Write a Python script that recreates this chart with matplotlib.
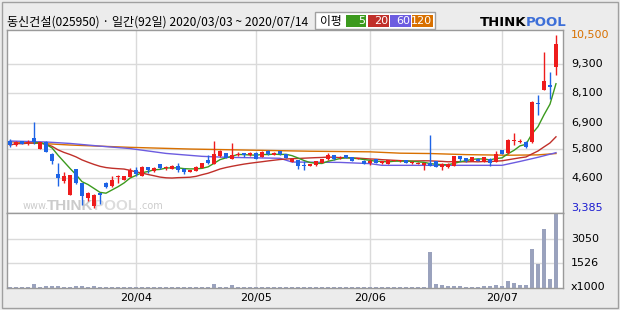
import numpy as np
import pandas as pd
import matplotlib
matplotlib.use("Agg")
import matplotlib.pyplot as plt
from matplotlib.patches import Rectangle

plt.rcParams['font.family'] = ['DejaVu Sans']
KR = ['Noto Sans CJK KR', 'DejaVu Sans']

title = "동신건설(025950) · 일간(92일) 2020/03/03 ~ 2020/07/14"
holidays = ['2020-04-15', '2020-04-30', '2020-05-01', '2020-05-05']
dates = pd.bdate_range('2020-03-03', '2020-07-14')
dates = dates[~dates.isin(pd.to_datetime(holidays))]

opens = [6150, 5990, 6140, 6060, 6270, 5820, 6100, 5600, 4800, 4510,
         3940, 5000, 4430, 3780, 3460, 4000, 4430, 4300, 4640, 4550,
         4660, 4960, 4720, 5090, 4900, 5200, 5010, 4990, 5130, 4990,
         4880, 4900, 5040, 5350, 5210, 5510, 5630, 5420, 5560, 5630,
         5560, 5650, 5490, 5720, 5570, 5720, 5600, 5280, 5350, 5170,
         5130, 5140, 5230, 5380, 5560, 5440, 5560, 5480, 5400, 5320,
         5250, 5380, 5250, 5200, 5330, 5300, 5350, 5230, 5200, 5140,
         5240, 5320, 5070, 5070, 5110, 5510, 5440, 5320, 5420, 5280,
         5420, 5280, 5750, 5630, 6130, 6090, 6110, 6110, 7720, 8250,
         8430, 9190]
highs = [6210, 6130, 6160, 6180, 6910, 6100, 6120, 5650, 5230, 4860,
         4760, 5000, 4430, 4050, 3960, 4010, 4450, 4700, 4760, 4710,
         5040, 5070, 5100, 5090, 5060, 5210, 5130, 5150, 5240, 5010,
         4960, 5100, 5240, 5560, 6130, 5770, 5650, 6050, 5680, 5650,
         5670, 5680, 5720, 5760, 5680, 5740, 5620, 5430, 5370, 5300,
         5200, 5310, 5400, 5630, 5580, 5520, 5570, 5500, 5460, 5340,
         5400, 5390, 5330, 5360, 5370, 5360, 5360, 5300, 5260, 5240,
         6400, 5330, 5220, 5230, 5520, 5520, 5450, 5490, 5440, 5500,
         5430, 5730, 5760, 6230, 6470, 6230, 6120, 7770, 8040, 9820,
         8980, 10500]
lows = [5880, 5950, 6000, 5960, 6020, 5820, 5680, 5200, 4300, 4400,
        3920, 4390, 3500, 3660, 3385, 3550, 4200, 4250, 4420, 4530,
        4640, 4720, 4700, 4810, 4880, 5000, 4940, 4980, 4880, 4800,
        4870, 4890, 5020, 5200, 5200, 5500, 5440, 5400, 5520, 5470,
        5540, 5400, 5470, 5580, 5550, 5580, 5440, 5260, 5000, 4950,
        5100, 5120, 5220, 5360, 5370, 5420, 5430, 5300, 5380, 5190,
        5150, 5220, 5200, 5180, 5300, 5280, 5220, 5200, 5180, 4930,
        5100, 5060, 4930, 5050, 5100, 5300, 5290, 5300, 5310, 5260,
        5110, 5260, 5600, 5620, 5970, 6060, 5840, 6070, 7200, 8240,
        7860, 8840]
closes = [5970, 6100, 6020, 6110, 6080, 6100, 5680, 5320, 4610, 4720,
          4740, 4400, 3870, 4020, 3920, 3930, 4230, 4540, 4680, 4690,
          4930, 4790, 5090, 4930, 5040, 5010, 5070, 5130, 4930, 4880,
          4950, 5090, 5230, 5230, 5600, 5720, 5460, 5560, 5600, 5560,
          5650, 5420, 5700, 5590, 5630, 5590, 5460, 5420, 5110, 5110,
          5180, 5300, 5380, 5560, 5380, 5480, 5440, 5320, 5450, 5200,
          5320, 5230, 5300, 5350, 5350, 5340, 5230, 5270, 5240, 5230,
          5100, 5070, 5210, 5210, 5510, 5420, 5300, 5480, 5320, 5480,
          5230, 5590, 5610, 6170, 6180, 6150, 5910, 7760, 7650, 8600,
          8350, 10120]
# volume in thousands of shares
volume = [90, 70, 60, 80, 250, 90, 110, 100, 120, 90,
          80, 100, 110, 90, 120, 80, 70, 60, 90, 80,
          70, 60, 80, 70, 60, 70, 60, 80, 70, 60,
          70, 60, 80, 90, 220, 90, 80, 170, 90, 70,
          60, 70, 60, 70, 60, 70, 60, 70, 80, 70,
          60, 70, 60, 80, 70, 60, 70, 60, 70, 60,
          70, 60, 70, 60, 70, 60, 80, 70, 60, 90,
          2200, 240, 170, 110, 150, 100, 90, 80, 90, 100,
          110, 200, 110, 450, 280, 200, 210, 2420, 1460, 3660,
          550, 4577]

# moving averages (need history before 03/03)
ma60_idx = [0, 6, 10, 15, 20, 26, 32, 36, 45, 47, 55, 60, 62, 72, 82, 85, 88, 91]
ma60_val = [6140, 6100, 6040, 5930, 5830, 5630, 5510, 5470, 5430, 5275,
            5260, 5210, 5140, 5140, 5140, 5300, 5470, 5660]
ma120_idx = [0, 10, 20, 30, 40, 50, 60, 65, 70, 76, 83, 88, 91]
ma120_val = [6110, 5975, 5880, 5810, 5765, 5720, 5695, 5640, 5625, 5580,
             5555, 5570, 5625]

price_labels = [10500, 9300, 8100, 6900, 5800, 4600, 3385]
vol_labels = [1526, 3050]
ma_names = ['5', '20', '60', '120']

UP = '#ee1c1c'
DOWN = '#1e64e6'
MA_COLORS = ['#3c9a1e', '#c0302a', '#6c5ce0', '#d87000']
GRID = '#dadada'
FRAME = '#9a9a9a'

W, H = 620, 310


def fx(px):
    return px / W


def fy(py):
    return 1 - py / H


o = np.array(opens)
h = np.array(highs)
l = np.array(lows)
c = np.array(closes)
n = len(c)
x = np.arange(n)

fig = plt.figure(figsize=(6.2, 3.1), dpi=100, facecolor='#ececec')
ax = fig.add_axes([fx(7), fy(213), fx(556), 183 / H])
axv = fig.add_axes([fx(7), fy(288), fx(556), 75 / H])

for a in (ax, axv):
    a.set_facecolor('white')
    a.set_xlim(-0.5, 92.17)
    a.tick_params(length=0, labelleft=False, labelbottom=False)
    for s in a.spines.values():
        s.set_color(FRAME)
        s.set_linewidth(1)

# month grid
month_start = [i for i in range(1, n) if dates[i].month != dates[i - 1].month]
for i in month_start:
    ax.axvline(i, color=GRID, lw=1, zorder=0)
    axv.axvline(i, color=GRID, lw=1, zorder=0)
    axv.text(i, -0.135, dates[i].strftime('%y/%m'), transform=axv.get_xaxis_transform(),
             ha='center', va='center', fontsize=8)

# price scale
hi, lo = h.max(), l.min()
pp = (hi - lo) / 173
ax.set_ylim(lo - 5 * pp, hi + 5 * pp)
for v in price_labels[1:-1]:
    ax.axhline(v, color=GRID, lw=1, zorder=0)
label_colors = ['#d87000'] + ['black'] * (len(price_labels) - 2) + ['#1a1ad0']
for v, col in zip(price_labels, label_colors):
    ax.text(1.0144, v, f"{v:,}", transform=ax.get_yaxis_transform(),
            ha='left', va='center', fontsize=8, color=col, clip_on=False)

# watermark
wm = dict(transform=fig.transFigure, zorder=1, va='baseline')
ax.text(fx(23), fy(209), 'www.', fontsize=7, color='#cccccc', **wm)
ax.text(fx(47), fy(210), 'THINK', fontsize=11, fontweight='bold', color='#cbcbcb',
        family=['Liberation Sans', 'DejaVu Sans'], **wm)
ax.text(fx(94), fy(210), 'POOL', fontsize=11, fontweight='bold', color='#dcdcdc',
        family=['Liberation Sans', 'DejaVu Sans'], **wm)
ax.text(fx(139), fy(209), '.com', fontsize=7, color='#cccccc', **wm)

# moving averages
ma5 = pd.Series(c).rolling(5).mean()
ma20 = pd.Series(c).rolling(20, min_periods=1).mean()
ax.plot(ma120_idx, ma120_val, color=MA_COLORS[3], lw=1, zorder=2)
ax.plot(ma60_idx, ma60_val, color=MA_COLORS[2], lw=1, zorder=2)
ax.plot(x, ma20, color=MA_COLORS[1], lw=1, zorder=2)
ax.plot(x, ma5, color=MA_COLORS[0], lw=1, zorder=2)

# candles
colors = np.where(c >= o, UP, DOWN)
ax.vlines(x, l, h, colors=colors, lw=1, zorder=3)
body = np.maximum(np.abs(c - o), pp * 1.2)
ax.bar(x, body, bottom=np.minimum(o, c), width=0.72, color=colors, linewidth=0, zorder=4)

# volume
vmax = max(volume)
axv.set_ylim(0, vmax * 1.01)
for v in vol_labels:
    axv.axhline(v, color=GRID, lw=1, zorder=0)
    axv.text(1.0144, v, str(v), transform=axv.get_yaxis_transform(),
             ha='left', va='center', fontsize=8)
axv.text(1.0144, 0.013, 'x1000', transform=axv.transAxes, ha='left', va='center', fontsize=8)
axv.bar(x, volume, width=0.7, color='#9aa2bd', linewidth=0, zorder=2)

# header
fig.text(fx(7), fy(22), title, fontsize=8.7, va='center', family=KR)
fig.add_artist(Rectangle((fx(315), fy(29)), fx(120), 17 / H, transform=fig.transFigure,
                         facecolor='white', edgecolor='#a0a0a0', lw=1))
fig.text(fx(320), fy(21), '이평', fontsize=8.5, va='center', family=KR)
box_x = [346, 368, 390, 412]
box_w = [20, 21, 21, 21]
for bx, bw, col, name in zip(box_x, box_w, MA_COLORS, ma_names):
    fig.add_artist(Rectangle((fx(bx), fy(27)), fx(bw), 12 / H, transform=fig.transFigure,
                             facecolor=col, edgecolor='none'))
    fig.text(fx(bx + bw - 1), fy(21), name, fontsize=8, color='white', ha='right', va='center')

# logo
fig.text(fx(480), fy(22), 'THINK', fontsize=9.5, fontweight='bold', color='black', va='center')
fig.text(fx(526), fy(22), 'POOL', fontsize=9.5, fontweight='bold', color='#3d6fd8', va='center')

# outer frame
fig.add_artist(Rectangle((fx(1.5), fy(307.5)), fx(616), 306 / H, transform=fig.transFigure,
                         facecolor='none', edgecolor='#a0a0a0', lw=1))

fig.savefig('out.png', dpi=100, facecolor=fig.get_facecolor())
